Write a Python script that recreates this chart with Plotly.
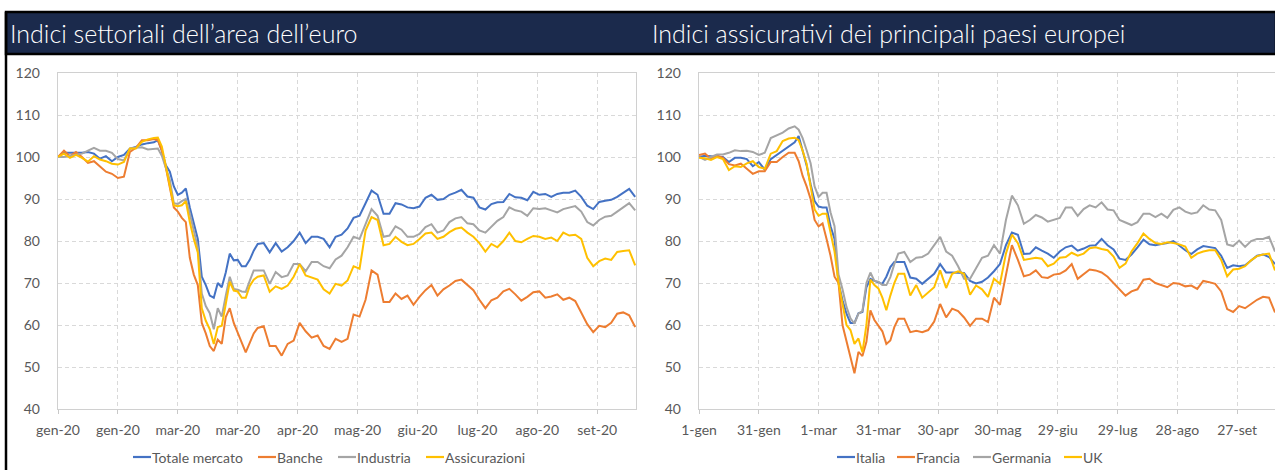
import plotly.graph_objects as go
import pandas as pd

# ---------------- data ----------------
day_offsets = [0, 3, 6, 9, 12, 15, 18, 21, 24, 27, 30, 33, 36, 39, 42, 45, 48,
               50, 52, 54, 56, 58, 60, 62, 64, 66, 68, 70, 72, 74, 76, 78, 80, 82, 84, 86, 88, 90, 92, 94, 96, 98, 100,
               103, 106, 109, 112, 115, 118, 121, 124, 127, 130, 133, 136, 139, 142, 145, 148, 151, 154, 157, 160,
               163, 166, 169, 172, 175, 178, 181, 184, 187, 190, 193, 196, 199, 202, 205, 208, 211, 214, 217, 220,
               223, 226, 229, 232, 235, 238, 241, 244, 247, 250, 253, 256, 259, 262, 265, 268, 271, 274, 277, 280,
               283, 286, 289]

# Left chart: Indici settoriali dell'area dell'euro
totale_mercato = [100, 101, 101, 101, 101, 101.2, 100.8, 99.6, 100.2, 99, 100, 100.5, 102, 102.4, 103, 103.3, 103.5,
                  104, 101.5, 98, 96.5, 93, 91, 91.5, 92.5, 88, 84, 80.5, 71.5, 69.5, 67, 66.5, 70, 69, 72.5, 77, 75.4,
                  75.5, 74, 74, 75.5, 77.7, 79.3,
                  79.5, 77.3, 79.5, 77.5, 78.5, 80, 82, 79.5, 81, 81, 80.5, 78.5, 81, 81.5, 83, 85.5, 86, 89, 92, 91,
                  86.5, 86.5, 89, 88.7, 88, 87.8, 88.2, 90.3, 91, 89.8, 90, 91, 91.5, 92.2, 90.6, 90.3, 88, 87.5, 88.8,
                  89.2, 89.3, 91.2, 90.4, 90.3, 89.7, 91.7, 91, 91.2, 90.5, 91.2, 91.5, 91.5, 92, 90.5, 88.4, 87.6,
                  89.3, 89.6, 89.8, 90.5, 91.5, 92.4, 90.5]
banche = [100, 101.5, 100.2, 101.2, 100, 98.6, 99, 97.8, 96.5, 96, 95, 95.3, 101.2, 102.2, 104, 104, 104.3,
          104, 101.5, 97.5, 93, 88, 87, 85.5, 84.5, 76, 72, 69.5, 60.5, 58, 55, 53.8, 56.5, 55.5, 61.9, 64, 60.5,
          58, 55.8, 53.5, 55.8, 58, 59.3,
          59.7, 55, 55, 52.7, 55.5, 56.3, 60.5, 58.5, 57, 57.5, 55, 54.3, 56.7, 56, 56.7, 62.5, 62, 66, 73, 72,
          65.5, 65.5, 67.5, 66.2, 67, 64.8, 66.7, 68.3, 69.5, 67, 68.5, 69.4, 70.5, 70.8, 69.5, 68.3, 66, 64, 65.9,
          66.5, 68, 68.6, 67.3, 65.8, 66.7, 67.8, 68, 66.5, 66.8, 67.3, 66, 66.5, 65.7, 63, 60.2, 58.3, 59.8,
          59.5, 60.5, 62.7, 63, 62.3, 59.5]
industria = [100, 100, 100.3, 100.5, 100.8, 101.5, 102.2, 101.5, 101.5, 101, 99.5, 99.2, 102, 102.2, 102.3, 101.8, 102,
             102, 100.3, 97.5, 94.5, 89, 88.8, 89.5, 90, 86.5, 82.5, 78.5, 67.5, 64.5, 62.8, 59, 64, 62, 67, 71.5,
             68.6, 68.4, 68, 67.9, 70.5, 73, 73,
             73, 69.8, 72.6, 71.4, 71.8, 74.5, 74.5, 72.8, 75, 75, 74, 73.5, 75.6, 76.5, 78.5, 81, 80.5, 84, 87.6, 86,
             81, 81.3, 83.5, 82.7, 81, 81, 81.7, 83.3, 84, 82, 82.5, 84.5, 85.4, 85.7, 84.2, 84, 82.5, 82, 83.5,
             84.8, 85.7, 88, 87.3, 87, 86, 87.8, 87.6, 87.8, 87.3, 86.8, 87.6, 88, 88.3, 87, 84.5, 83.7, 85,
             85.8, 86, 87, 88, 89, 87.3]
assicurazioni = [100, 100.8, 99.8, 100.5, 99.8, 98.9, 100.2, 99.4, 99, 98.4, 98.2, 98.8, 102, 102, 103.6, 104.2, 104.5,
                 104.6, 102.5, 98, 93, 88.5, 88.3, 88.5, 89.5, 84.5, 80.5, 77.3, 64, 61, 59, 55.5, 59.5, 59.8, 65,
                 70.3, 68.2, 68, 66.5, 66.5, 69.3, 70.8, 71.5,
                 71.8, 67.9, 69.2, 68.6, 69.4, 71.5, 74.5, 71.8, 71.3, 70.8, 68.5, 67.5, 69.8, 69.4, 70.6, 74, 73.4,
                 82.5, 85.7, 85, 79, 79.3, 81, 79.8, 79, 79.3, 80.5, 81.8, 82, 80.5, 81, 82.1, 82.9, 83.2, 82, 81,
                 79.5, 77.5, 79.3, 78.5, 80, 82, 80, 79.7, 80.5, 81.2, 81, 80.5, 80.8, 80, 82, 81.3, 81.5, 80.5, 76,
                 74, 75.2, 75.8, 75.5, 77.4, 77.6, 77.8, 74.2]

# Right chart: Indici assicurativi dei principali paesi europei
italia = [100, 100.3, 100.2, 100, 100, 98.8, 99.8, 99.8, 99.5, 97.8, 98.8, 97, 99.5, 100.5, 101.5, 102.4, 103.5,
          105, 101.5, 98, 93.5, 89.5, 88.2, 88, 88, 83.5, 80.5, 70, 65.9, 62.7, 60.5, 60.5, 62.8, 63.1, 69, 71,
          70.5, 70.2, 69.8, 71.5, 73.8, 75, 75,
          75, 71.3, 71, 69.8, 71, 72.2, 74.5, 72.5, 72.5, 72.4, 72.4, 70.5, 69.9, 70.3, 71.3, 72.8, 74.5, 79, 82,
          81.5, 76.9, 77, 78.5, 77.7, 77, 76, 77.5, 78.5, 78.9, 77.7, 78.2, 78.9, 79, 80.5, 79, 78, 75.8, 75.5,
          76.8, 78.5, 80.3, 79.2, 79, 79.3, 79.5, 80, 78.8, 77.8, 76.9, 78, 78.8, 78.5, 78.3, 76.5, 73.6, 74.2,
          74, 74.2, 75.4, 76.5, 76.8, 76.2, 74.5]
francia = [100.5, 100.8, 99.6, 100.4, 99.8, 98.3, 98, 98.4, 97.2, 96, 96.6, 96.6, 98.8, 98.8, 100, 101, 101,
           99, 95.5, 93, 90, 85, 83.5, 84.2, 80.5, 76.5, 71.5, 70, 60, 56, 52.5, 48.5, 53.6, 52.6, 56, 63.5, 61.2,
           59.9, 58.5, 55.5, 56.3, 59.5, 61.5,
           61.5, 58.3, 58.6, 58.3, 58.8, 60.8, 65, 61.8, 63.9, 63.3, 61.8, 59.8, 61.5, 61.5, 60.7, 66.5, 64.8, 72,
           79, 75.5, 71.6, 72, 73, 71.4, 71.2, 72, 72.2, 73, 74.5, 71, 72, 73.2, 73, 72.5, 71.5, 70, 68.5, 67, 68,
           68.5, 70.8, 71, 70, 69.5, 69, 70, 69.8, 69.2, 69.4, 68.6, 70.5, 70.2, 69.8, 68, 63.8, 63.1, 64.5, 64,
           65, 66, 66.7, 66.5, 63]
germania = [100, 99.3, 100, 100.6, 100.6, 101, 101.6, 101.4, 101.5, 101.2, 100.5, 101, 104.5, 105.2, 105.8, 106.8, 107.3,
            106.5, 104.5, 101.6, 98.5, 93, 90.5, 91.5, 91.5, 86.8, 83.5, 72, 68.5, 64.3, 61.6, 60.3, 62.7, 63.3, 70,
            72.5, 70.5, 70.3, 69.5, 69.5, 71.4, 74.5, 77,
            77.4, 75, 76, 76.2, 77, 79, 81, 77.5, 76.5, 74, 71, 71, 73.5, 76, 76.5, 79, 77, 85, 90.8, 88.5, 84.1, 85,
            86.2, 85.6, 84.6, 85, 85.5, 88, 88, 86, 87.6, 88.5, 88, 89.2, 87.5, 87.3, 85, 84.4, 83.8, 84.5, 86.5,
            86.5, 85.7, 86.5, 85.5, 87.4, 88, 87, 86.5, 86.8, 88.5, 87.5, 87.3, 85, 79.2, 78.8, 80.1, 78.6, 80,
            80.5, 80.5, 81, 77.5]
uk = [99.8, 99.7, 99.3, 100, 99.5, 96.9, 97.8, 97.6, 98.5, 99, 97.6, 97.2, 100.8, 101.4, 103.8, 104.4, 104.6,
      104, 101.5, 98.4, 93, 87.5, 86, 86.5, 86.5, 82, 77.5, 70, 65.1, 60, 58.8, 55.5, 56.8, 53.5, 60, 70.8, 69.5,
      68.7, 66.5, 63.5, 67, 70, 72.2,
      72.2, 67, 69.5, 66.5, 67.8, 69, 73, 68.8, 72.2, 72.8, 72.2, 67.2, 69.4, 68.5, 66.7, 71, 69.8, 77, 81.5,
      79.5, 75.5, 75.8, 76, 75.8, 74, 74.6, 76, 76.2, 77.2, 76.5, 77, 78.3, 78.5, 78.1, 77.8, 76.3, 73.6, 74.6,
      77.5, 79.5, 81.8, 80.5, 79.5, 79.3, 79.7, 79.5, 79.2, 78.7, 76, 77, 77.5, 77.8, 77.8, 75.5, 71.6, 73.2,
      73.4, 74, 75.4, 76.4, 76.8, 77, 73]

tick_dates = ["2020-01-01", "2020-01-31", "2020-03-01", "2020-03-31", "2020-04-30",
              "2020-05-30", "2020-06-29", "2020-07-29", "2020-08-28", "2020-09-27"]
left_tick_labels = ["gen-20", "gen-20", "mar-20", "mar-20", "apr-20",
                    "mag-20", "giu-20", "lug-20", "ago-20", "set-20"]
right_tick_labels = ["1-gen", "31-gen", "1-mar", "31-mar", "30-apr",
                     "30-mag", "29-giu", "29-lug", "28-ago", "27-set"]

left_title = "Indici settoriali dell’area dell’euro"
right_title = "Indici assicurativi dei principali paesi europei"

left_series = [("Totale mercato", totale_mercato), ("Banche", banche),
               ("Industria", industria), ("Assicurazioni", assicurazioni)]
right_series = [("Italia", italia), ("Francia", francia), ("Germania", germania), ("UK", uk)]
colors = ["#4472C4", "#ED7D31", "#A5A5A5", "#FFC000"]

# legend entry positions (pixels from the left edge of the figure)
left_legend_x = [133, 258, 338, 426]
right_legend_x = [837, 897, 973, 1064]

# ---------------- figure ----------------
W, H = 1275, 470
base = pd.Timestamp("2020-01-01")
dates = [base + pd.Timedelta(days=d) for d in day_offsets]

fig = go.Figure()
for (name, vals), c in zip(left_series, colors):
    fig.add_trace(go.Scatter(x=dates, y=vals, name=name, mode="lines",
                             line=dict(color=c, width=2), xaxis="x", yaxis="y",
                             showlegend=False, hoverinfo="skip"))
for (name, vals), c in zip(right_series, colors):
    fig.add_trace(go.Scatter(x=dates, y=vals, name=name, mode="lines",
                             line=dict(color=c, width=2), xaxis="x2", yaxis="y2",
                             showlegend=False, hoverinfo="skip"))

FONT = "Lato"
TICK_COLOR = "#595959"
GRID = "#d9d9d9"


def px_x(p):
    return p / W


def px_y(p):
    return 1 - p / H


ydom = [px_y(409), px_y(73)]

xaxis_common = dict(
    type="date", tickmode="array", tickvals=tick_dates,
    showgrid=True, gridcolor=GRID, griddash="4px,3px", gridwidth=1,
    showline=True, linecolor="#d0d0d0", linewidth=1.3, mirror=True,
    ticks="outside", ticklen=4, tickcolor="#c8c8c8",
    tickfont=dict(family=FONT, size=14, color=TICK_COLOR),
    zeroline=False, fixedrange=True, automargin=False, ticklabelstandoff=4,
)
yaxis_common = dict(
    range=[40, 120], dtick=10, tick0=40,
    showgrid=True, gridcolor=GRID, griddash="4px,3px", gridwidth=1,
    showline=True, linecolor="#d0d0d0", linewidth=1.3, mirror=True,
    ticks="", tickfont=dict(family=FONT, size=14, color=TICK_COLOR),
    zeroline=False, fixedrange=True, ticklabelstandoff=14, automargin=False,
)

fig.update_layout(
    width=W, height=H,
    margin=dict(l=0, r=0, t=0, b=0, autoexpand=False),
    paper_bgcolor="white", plot_bgcolor="white",
    font=dict(family=FONT, color=TICK_COLOR),
    xaxis=dict(xaxis_common, domain=[px_x(58), px_x(636)], anchor="y",
               range=["2020-01-01", "2020-10-16 10:00"], ticktext=left_tick_labels),
    yaxis=dict(yaxis_common, domain=ydom, anchor="x"),
    xaxis2=dict(xaxis_common, domain=[px_x(699), 1.0], anchor="y2",
                range=["2020-01-01", "2020-10-16"], ticktext=right_tick_labels),
    yaxis2=dict(yaxis_common, domain=ydom, anchor="x2"),
    showlegend=False,
    hovermode=False,
)

# title bar and frame
fig.add_shape(type="rect", xref="paper", yref="paper",
              x0=px_x(6), x1=px_x(1276), y0=px_y(54), y1=px_y(12),
              fillcolor="#1b2a4c", line=dict(color="black", width=2.5), layer="above")
fig.add_shape(type="line", xref="paper", yref="paper",
              x0=px_x(6), x1=px_x(6), y0=px_y(12), y1=0,
              line=dict(color="black", width=2.5), layer="above")

fig.add_annotation(text=left_title, xref="paper", yref="paper", x=px_x(8), y=px_y(33),
                   xanchor="left", yanchor="middle", showarrow=False,
                   font=dict(family=FONT, size=25, color="white", weight=300))
fig.add_annotation(text=right_title, xref="paper", yref="paper", x=px_x(650), y=px_y(33),
                   xanchor="left", yanchor="middle", showarrow=False,
                   font=dict(family=FONT, size=25, color="white", weight=300))

# legends (short line + label, as in the original)
for series, xs in ((left_series, left_legend_x), (right_series, right_legend_x)):
    for (name, _), c, x0 in zip(series, colors, xs):
        fig.add_shape(type="line", xref="paper", yref="paper",
                      x0=px_x(x0), x1=px_x(x0 + 18), y0=px_y(457), y1=px_y(457),
                      line=dict(color=c, width=2.2))
        fig.add_annotation(text=name, xref="paper", yref="paper", x=px_x(x0 + 18), y=px_y(457),
                           xanchor="left", yanchor="middle", showarrow=False, xshift=-1,
                           font=dict(family=FONT, size=14, color=TICK_COLOR))

fig.write_html("out.html", config={"displayModeBar": False, "staticPlot": True},
               post_script="document.body.style.margin='0';document.body.style.overflow='hidden';")
